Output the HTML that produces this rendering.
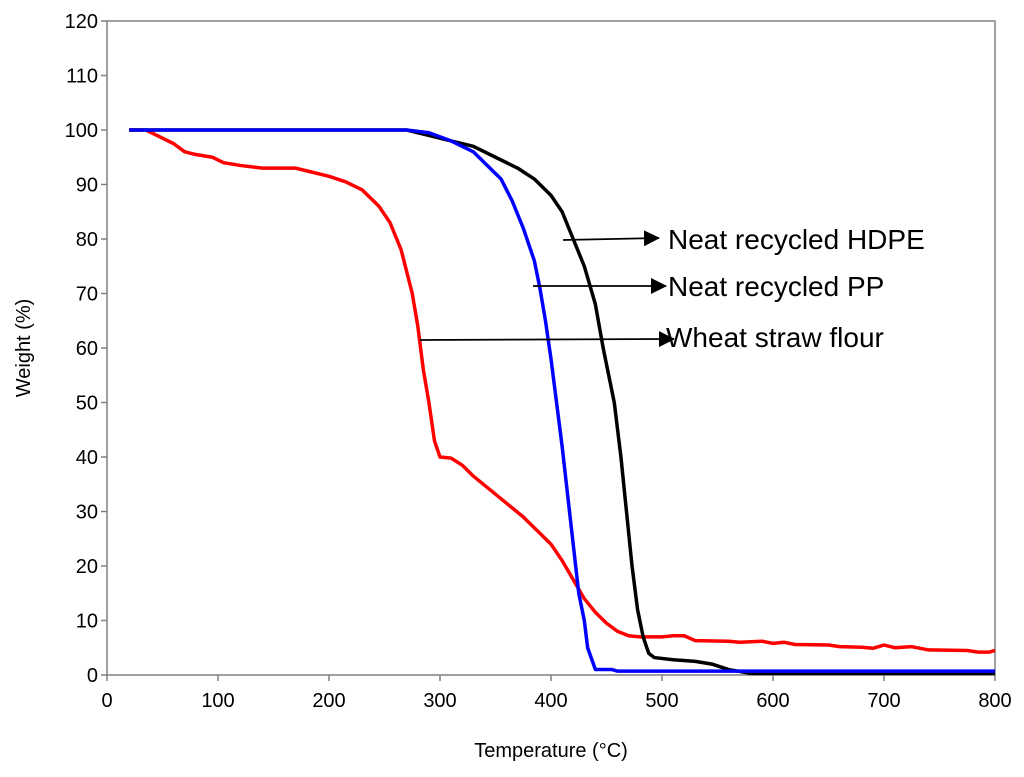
<!DOCTYPE html>
<html><head><meta charset="utf-8"><style>
html,body{margin:0;padding:0;background:#fff;}
svg{display:block;font-family:"Liberation Sans",Arial,sans-serif;}
</style></head><body>
<svg id="chart" width="1024" height="777" viewBox="0 0 1024 777" xmlns="http://www.w3.org/2000/svg">
<defs><marker id="ah" markerWidth="16" markerHeight="16" refX="15" refY="8" orient="auto" markerUnits="userSpaceOnUse"><path d="M0,0 L16,8 L0,16 z" fill="#000"/></marker></defs>
<g id="axes"></g><g id="series"></g><g id="notes"></g>
</svg>
<script>
const xTicks=[0,100,200,300,400,500,600,700,800];
const yTicks=[0,10,20,30,40,50,60,70,80,90,100,110,120];
const hdpeT=[20,270,290,310,330,350,370,385,400,410,420,430,440,447,457,463,468,473,478,483,488,493,510,530,545,560,580,800];
const hdpeW=[100,100,99,98,97,95,93,91,88,85,80,75,68,60,50,40,30,20,12,7,4,3.2,2.8,2.5,2,1,0.3,0.3];
const ppT=[20,270,290,310,330,345,355,365,375,385,390,395,400,405,410,415,420,425,430,433,440,455,460,800];
const ppW=[100,100,99.5,98,96,93,91,87,82,76,71,65,58,50,42,33,24,15,10,5,1,1,0.7,0.7];
const wsT=[20,35,45,60,70,80,95,105,120,140,170,180,200,215,230,245,255,265,275,280,285,290,295,300,310,320,330,345,360,375,390,400,410,420,430,440,450,460,470,480,500,510,520,530,560,570,590,600,610,620,650,660,680,690,700,710,725,740,775,785,795,800];
const wsW=[100,100,99,97.5,96,95.5,95,94,93.5,93,93,92.5,91.5,90.5,89,86,83,78,70,64,56,50,43,40,39.8,38.5,36.5,34,31.5,29,26,24,21,17.5,14,11.5,9.5,8,7.2,7,7,7.2,7.2,6.3,6.2,6,6.2,5.8,6,5.6,5.5,5.2,5.1,4.9,5.5,5,5.2,4.6,4.5,4.2,4.2,4.5];
const NS="http://www.w3.org/2000/svg";
const X0=107,X1=995,Y0=675,Y1=21;
const sx=v=>X0+(v/800)*(X1-X0);
const sy=v=>Y0-(v/120)*(Y0-Y1);
function mk(tag,attrs,parent,text){const e=document.createElementNS(NS,tag);for(const k in attrs)e.setAttribute(k,attrs[k]);if(text!==undefined)e.textContent=text;parent.appendChild(e);return e;}
const ax=document.getElementById('axes');
const box=mk('rect',{x:X0,y:Y1,width:X1-X0,height:Y0-Y1,fill:'none',stroke:'#808080','stroke-width':1.5},ax);


xTicks.forEach(t=>{
 const l=mk('line',{x1:sx(t),x2:sx(t),y1:Y0,y2:Y0+6,stroke:'#808080','stroke-width':1.5},ax);
 
 
 const tx=mk('text',{x:sx(t),y:Y0+32,'text-anchor':'middle','font-size':20},ax,String(t));
 
 
});
yTicks.forEach(t=>{
 const l=mk('line',{x1:X0-6,x2:X0,y1:sy(t),y2:sy(t),stroke:'#808080','stroke-width':1.5},ax);
 
 
 const tx=mk('text',{x:X0-9,y:sy(t)+7,'text-anchor':'end','font-size':20},ax,String(t));
 
 
});
const xt=mk('text',{x:551,y:757,'text-anchor':'middle','font-size':20},ax,'Temperature (°C)');


const yt=mk('text',{x:30,y:348,'text-anchor':'middle','font-size':20,transform:'rotate(-90 30 348)'},ax,'Weight (%)');


const sg=document.getElementById('series');
function line(T,W,color,name){
 const p=mk('polyline',{points:T.map((t,i)=>sx(t)+','+sy(W[i])).join(' '),fill:'none',stroke:color,'stroke-width':3.5,'stroke-linejoin':'round'},sg);
 
 
}
line(wsT,wsW,'#ff0000','wheat-straw-flour-line');
line(hdpeT,hdpeW,'#000000','hdpe-line');
line(ppT,ppW,'#0000ff','pp-line');
const ng=document.getElementById('notes');
function note(x1,y1,x2,y2,tx,ty,label,name){
 const a=mk('line',{x1:x1,y1:y1,x2:x2,y2:y2,stroke:'#000','stroke-width':1.8,'marker-end':'url(#ah)'},ng);
 
 
 const t=mk('text',{x:tx,y:ty,'font-size':28},ng,label);
 
 
}
note(563,240,659,238,668,249,'Neat recycled HDPE','hdpe');
note(533,286,666,286,668,296,'Neat recycled PP','pp');
note(420,340,674,339,666,347,'Wheat straw flour','wheat');
</script>
</body></html>
